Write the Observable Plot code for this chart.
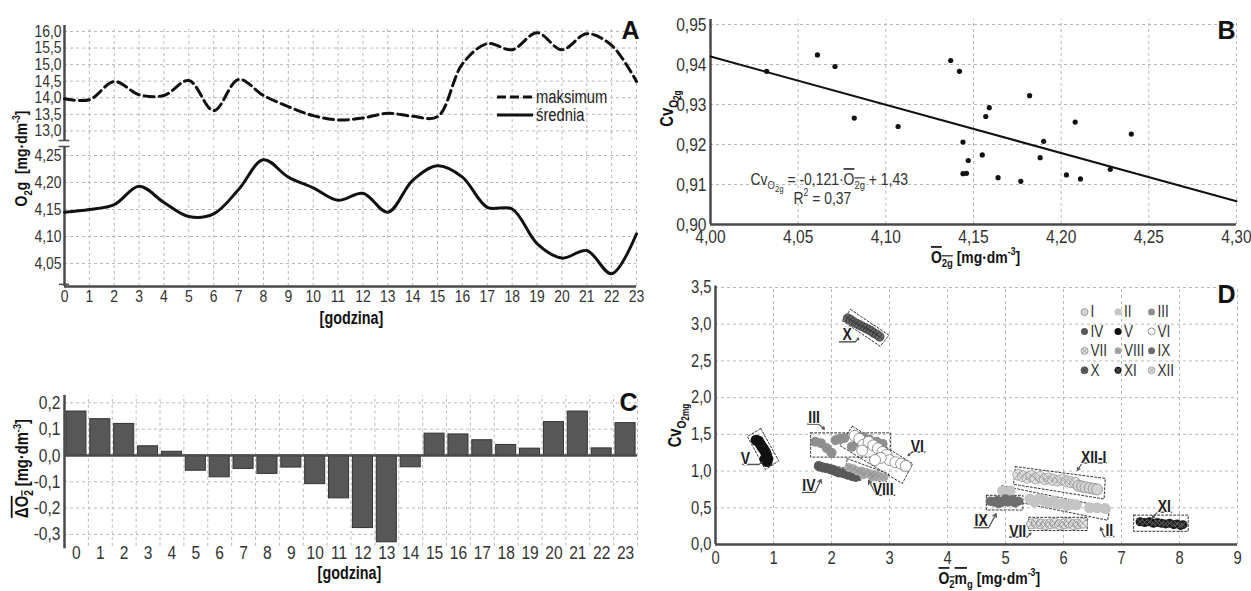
<!DOCTYPE html>
<html><head><meta charset="utf-8">
<script src="https://cdn.jsdelivr.net/npm/d3@7"></script>
<script src="https://cdn.jsdelivr.net/npm/@observablehq/plot@0.6"></script>
<style>
html,body{margin:0;padding:0;background:#fff;}
#chart{position:relative;width:1251px;height:591px;overflow:hidden;background:#fff;}
#chart > svg{position:absolute;left:0;top:0;}
#legA{position:absolute;left:497px;top:88px;font-family:"Liberation Sans",Arial,sans-serif;font-size:18px;color:#222;line-height:18px;}
#legA div{display:flex;align-items:center;height:18px;}
#legA span{display:inline-block;margin-left:3px;transform:scaleX(0.82);transform-origin:left center;}
</style></head><body><div id="chart"></div><script>
// ---------- data ----------
const hours = [0,1,2,3,4,5,6,7,8,9,10,11,12,13,14,15,16,17,18,19,20,21,22,23];
const hourLabels = ["0","1","2","3","4","5","6","7","8","9","10","11","12","13","14","15","16","17","18","19","20","21","22","23"];
const maxO2 = [13.97,13.94,14.49,14.09,14.07,14.52,13.61,14.55,14.07,13.73,13.46,13.33,13.39,13.53,13.44,13.43,15.02,15.63,15.45,15.96,15.45,15.93,15.58,14.49];
const meanO2 = [4.145,4.150,4.159,4.193,4.163,4.137,4.142,4.187,4.242,4.210,4.190,4.167,4.180,4.145,4.204,4.231,4.210,4.154,4.151,4.087,4.060,4.074,4.031,4.105];
const aTopTicks = [13.0,13.5,14.0,14.5,15.0,15.5,16.0];
const aTopLabels = ["13,0","13,5","14,0","14,5","15,0","15,5","16,0"];
const aLowTicks = [4.05,4.10,4.15,4.20,4.25];
const aLowLabels = ["4,05","4,10","4,15","4,20","4,25"];

const deltaO2 = [0.167,0.138,0.120,0.035,0.014,-0.058,-0.083,-0.051,-0.070,-0.046,-0.109,-0.163,-0.276,-0.330,-0.045,0.083,0.080,0.058,0.040,0.026,0.127,0.167,0.027,0.123];
const cYTicks = [0.2,0.1,0.0,-0.1,-0.2,-0.3];
const cYLabels = ["0,2","0,1","0,0","-0,1","-0,2","-0,3"];

const bX = [4.032,4.061,4.071,4.082,4.107,4.137,4.142,4.144,4.144,4.146,4.147,4.155,4.157,4.159,4.164,4.177,4.182,4.188,4.190,4.203,4.208,4.211,4.228,4.240];
const bY = [0.9383,0.9424,0.9395,0.9266,0.9245,0.9410,0.9383,0.9206,0.9127,0.9128,0.9160,0.9174,0.9270,0.9292,0.9117,0.9108,0.9322,0.9167,0.9208,0.9124,0.9256,0.9114,0.9138,0.9226];
const regX = [4.00,4.30];
const regY = [0.9420,0.9058];
const bXTicks = [4.00,4.05,4.10,4.15,4.20,4.25,4.30];
const bXLabels = ["4,00","4,05","4,10","4,15","4,20","4,25","4,30"];
const bYTicks = [0.90,0.91,0.92,0.93,0.94,0.95];
const bYLabels = ["0,90","0,91","0,92","0,93","0,94","0,95"];

const months = ["I","II","III","IV","V","VI","VII","VIII","IX","X","XI","XII"];
const mI = [[6.26,0.80],[6.32,0.79],[6.38,0.78],[6.45,0.77],[6.52,0.76],[6.58,0.75]];
const mII = [[4.95,0.73],[5.08,0.73],[5.42,0.62],[5.50,0.58],[5.58,0.62],[5.66,0.60],[5.74,0.57],[5.82,0.59],[5.90,0.55],[5.98,0.56],[6.06,0.53],[6.14,0.55],[6.22,0.54],[6.45,0.50],[6.58,0.50],[6.72,0.49]];
const mIII = [[1.72,1.40],[1.82,1.38],[1.92,1.31],[2.00,1.25],[2.07,1.42],[2.15,1.44],[2.22,1.45],[2.35,1.33],[2.45,1.40],[2.55,1.46],[2.65,1.43],[2.78,1.40],[2.88,1.37]];
const mIV = [[1.78,1.07],[1.85,1.05],[1.92,1.04],[2.00,1.02],[2.06,1.00],[2.12,0.98],[2.20,0.97],[2.28,0.95],[2.36,0.93],[2.42,0.92]];
const mV = [[0.70,1.42],[0.74,1.41],[0.77,1.37],[0.80,1.33],[0.83,1.30],[0.86,1.26],[0.88,1.22],[0.90,1.17],[0.89,1.13],[0.85,1.16]];
const mVI = [[2.40,1.48],[2.48,1.44],[2.55,1.36],[2.53,1.28],[2.64,1.40],[2.72,1.35],[2.80,1.31],[2.88,1.26],[2.95,1.22],[3.00,1.15],[3.10,1.12],[3.20,1.10],[3.28,1.07],[2.85,1.18],[2.75,1.15]];
const mVII = [[5.45,0.28],[5.53,0.29],[5.61,0.28],[5.69,0.27],[5.77,0.28],[5.85,0.29],[5.93,0.27],[6.01,0.28],[6.09,0.29],[6.17,0.27],[6.25,0.28],[6.33,0.29]];
const mVIII = [[2.30,1.05],[2.38,1.03],[2.45,1.00],[2.52,1.00],[2.60,0.98],[2.68,0.96],[2.75,0.95],[2.82,0.93],[2.90,0.92],[2.55,0.95],[2.70,0.92]];
const mIX = [[4.74,0.59],[4.80,0.58],[4.86,0.60],[4.92,0.57],[4.98,0.59],[5.04,0.58],[5.10,0.60],[5.16,0.57],[5.22,0.59],[4.88,0.56],[5.00,0.62],[5.12,0.61]];
const mX = [[2.28,3.08],[2.33,3.06],[2.38,3.03],[2.43,3.01],[2.48,2.99],[2.53,2.97],[2.58,2.95],[2.63,2.93],[2.68,2.91],[2.73,2.88],[2.78,2.86],[2.83,2.83]];
const mXI = [[7.32,0.31],[7.40,0.30],[7.48,0.31],[7.55,0.29],[7.62,0.30],[7.69,0.29],[7.76,0.28],[7.83,0.29],[7.90,0.27],[7.96,0.28],[8.02,0.26],[8.06,0.27]];
const mXII = [[5.22,0.95],[5.30,0.93],[5.38,0.91],[5.45,0.93],[5.52,0.90],[5.60,0.92],[5.68,0.89],[5.75,0.90],[5.82,0.88],[5.90,0.87],[5.98,0.88],[6.05,0.86],[6.12,0.85],[6.20,0.84]];
const dXTicks = [0,1,2,3,4,5,6,7,8,9];
const dXLabels = ["0","1","2","3","4","5","6","7","8","9"];
const dYTicks = [0,0.5,1,1.5,2,2.5,3,3.5];
const dYLabels = ["0,0","0,5","1,0","1,5","2,0","2,5","3,0","3,5"];

const boxNames = ["X","V","III","VI","IV","VIII","IX","VII","XII-I","II","XI"];
const boxCorners = [
  [[2.33,3.20],[2.99,2.85],[2.84,2.70],[2.18,3.05]],
  [[0.78,1.58],[1.09,1.14],[0.86,1.02],[0.55,1.47]],
  [[1.64,1.52],[3.02,1.52],[3.02,1.19],[1.64,1.19]],
  [[2.36,1.61],[3.40,1.10],[3.22,0.83],[2.14,1.35]],
  [[1.78,1.12],[2.53,0.985],[2.50,0.87],[1.75,1.01]],
  [[2.27,1.17],[2.99,0.96],[2.93,0.83],[2.25,1.03]],
  [[4.67,0.67],[5.30,0.67],[5.30,0.47],[4.67,0.47]],
  [[5.40,0.37],[6.41,0.37],[6.41,0.19],[5.40,0.19]],
  [[5.17,1.06],[6.72,0.90],[6.70,0.62],[5.14,0.82]],
  [[4.94,0.80],[6.80,0.50],[6.76,0.33],[4.90,0.63]],
  [[7.21,0.40],[8.15,0.40],[8.15,0.18],[7.21,0.18]]
];
const labelX = [2.27,0.517,1.70,3.48,1.61,2.89,4.58,5.21,6.52,6.79,7.74];
const labelY = [2.86,1.17,1.73,1.34,0.80,0.745,0.32,0.18,1.19,0.19,0.52];
const leaderPts = [
  [[2.13,2.76],[2.41,2.76],[2.47,2.81]],
  [[0.46,1.09],[0.75,1.09],[0.80,1.12]],
  [[1.58,1.64],[1.78,1.64],[1.88,1.57]],
  [[3.62,1.26],[3.39,1.26],[3.32,1.21]],
  [[1.49,0.71],[1.72,0.71],[1.82,0.885]],
  [[3.10,0.67],[2.78,0.67],[2.64,0.87]],
  [[4.45,0.23],[4.71,0.23],[4.84,0.42]],
  [[5.06,0.10],[5.37,0.10],[5.44,0.155]],
  [[6.75,1.11],[6.32,1.11],[6.24,1.01]],
  [[6.88,0.11],[6.70,0.11],[6.64,0.23]],
  [[7.87,0.44],[7.62,0.44],[7.53,0.36]]
];

// ---------- styles ----------
const W = 1251, H = 591;
const FONT = '"Liberation Sans",Arial,sans-serif';
const GRID = "#b8b8b8", AX = "#4a4a4a", TICK = "#333", LAB = "#111";
const NARROW = 0.82;
const chart = document.getElementById("chart");

const RICH = {
  "O2g [mg·dm-3]": {size:17, parts:[{t:"O"},{t:"2",sub:1},{t:"g  [mg·dm"},{t:"-3",sup:1},{t:"]"}]},
  "dO2 [mg·dm-3]": {size:18, parts:[{t:"ΔO",over:1},{t:"2",sub:1,over:1},{t:" [mg·dm"},{t:"-3",sup:1},{t:"]"}]},
  "O2g-bar [mg·dm-3]": {size:17, parts:[{t:"O",over:1},{t:"2g",sub:1,over:1},{t:" [mg·dm"},{t:"-3",sup:1},{t:"]"}]},
  "CvO2g": {size:18, parts:[{t:"Cv"},{t:"O",sub:1},{t:"2g",subsub:1}]},
  "CvO2mg": {size:18, parts:[{t:"Cv"},{t:"O",sub:1},{t:"2mg",subsub:1}]},
  "O2mg [mg·dm-3]": {size:17, parts:[{t:"O",over:1},{t:"2",sub:1,over:1},{t:"m",over:1},{t:"g",sub:1},{t:" [mg·dm"},{t:"-3",sup:1},{t:"]"}]},
  "CvO2g = -0,121·O2g + 1,43": {size:17, parts:[{t:"Cv"},{t:"O",sub:1},{t:"2g",subsub:1},{t:" = -0,121·"},{t:"O",over:1},{t:"2g",sub:1,over:1},{t:" + 1,43"}]},
  "R2 = 0,37": {size:17, parts:[{t:"R"},{t:"2",sup:1},{t:" = 0,37"}]}
};
function enrich(svg){
  const ns = "http://www.w3.org/2000/svg";
  svg.querySelectorAll("text").forEach(t => {
    const spec = RICH[t.textContent];
    if (!spec) return;
    while (t.firstChild) t.removeChild(t.firstChild);
    let cur = 0; const s = spec.size;
    for (const p of spec.parts) {
      const ts = document.createElementNS(ns, "tspan");
      let shift = 0, sc = 1;
      if (p.sub) { shift = 0.28*s; sc = 0.68; }
      if (p.subsub) { shift = 0.45*s; sc = 0.56; }
      if (p.sup) { shift = -0.42*s; sc = 0.62; }
      ts.setAttribute("dy", (shift - cur).toFixed(2)); cur = shift;
      ts.setAttribute("font-size", (s*sc).toFixed(2));
      if (p.over) ts.style.textDecoration = "overline";
      ts.textContent = p.t;
      t.appendChild(ts);
    }
  });
}
// condense text horizontally (Arial -> Arial Narrow look), keeping each text's anchor point
function narrow(svg){
  svg.querySelectorAll("text").forEach(t => {
    const fs = parseFloat(getComputedStyle(t).fontSize);
    if (fs >= 24) return;
    const tr = t.getAttribute("transform");
    if (tr) t.setAttribute("transform", tr + ` scale(${NARROW},1)`);
    else {
      const x = +(t.getAttribute("x") || 0), y = +(t.getAttribute("y") || 0);
      t.setAttribute("transform", `translate(${x},${y}) scale(${NARROW},1) translate(${-x},${-y})`);
    }
  });
}
function mk(m, xd, yd, marks){
  const svg = Plot.plot({
    width: W, height: H,
    marginLeft: m.l, marginRight: W - m.r, marginTop: m.t, marginBottom: H - m.b,
    x: {domain: xd, axis: null}, y: {domain: yd, axis: null},
    style: {background: "transparent", fontFamily: FONT, overflow: "visible"},
    marks
  });
  enrich(svg);
  chart.appendChild(svg);
  narrow(svg);
}
const gx = (vals, y1, y2) => Plot.ruleX(vals, {x: d => d, y1, y2, stroke: GRID, strokeWidth: 1, strokeDasharray: "3,3"});
const gy = (vals, x1, x2) => Plot.ruleY(vals, {y: d => d, x1, x2, stroke: GRID, strokeWidth: 1, strokeDasharray: "3,3"});
const ann = (m, str, px, py, o = {}) => Plot.text([str], {frameAnchor: "top-left", dx: px - m.l, dy: py - m.t, text: d => d, fontFamily: FONT, ...o});
const yTickText = (vals, labels, x, size, dx = -4) => Plot.text(vals, {x, y: d => d, text: (d, i) => labels[i], textAnchor: "end", dx, fontSize: size, fill: TICK});
const xTickText = (vals, labels, y, size, dy) => Plot.text(vals, {x: d => d, y, text: (d, i) => labels[i], lineAnchor: "top", dy, fontSize: size, fill: TICK});
const letter = (m, L, px, py) => ann(m, L, px, py, {fontWeight: "bold", fontSize: 25, textAnchor: "end", lineAnchor: "bottom", fill: "#111"});

// ---------- Panel A (upper: maksimum) ----------
{
  const m = {l: 64, r: 636, t: 25, b: 140};
  const yd = [12.71, 16.18];
  mk(m, [0, 23], yd, [
    gx(hours.slice(1), yd[0], 16.08),
    gy(aTopTicks, 0, 23),
    Plot.ruleX([0], {y1: yd[0], y2: yd[1], stroke: AX, strokeWidth: 2.5}),
    Plot.ruleY([yd[0]], {x1: -0.22, x2: 0.22, stroke: AX, strokeWidth: 1.5}),
    yTickText(aTopTicks, aTopLabels, 0, 17, -3),
    Plot.line(hours, {x: d => d, y: (d, i) => maxO2[i], curve: "catmull-rom", stroke: "#111", strokeWidth: 3, strokeDasharray: "10,5"}),
    letter(m, "A", 639, 38)
  ]);
}
// ---------- Panel A (lower: średnia) ----------
{
  const m = {l: 64, r: 636, t: 146, b: 286};
  const yd = [4.0074, 4.2667];
  mk(m, [0, 23], yd, [
    gx(hours.slice(1), yd[0], yd[1]),
    gy(aLowTicks, 0, 23),
    Plot.ruleY([yd[0]], {x1: 0, x2: 23, stroke: AX, strokeWidth: 2.5}),
    Plot.ruleX([0], {y1: yd[0], y2: yd[1], stroke: AX, strokeWidth: 2.5}),
    Plot.ruleY([yd[1]], {x1: -0.22, x2: 0.22, stroke: AX, strokeWidth: 1.5}),
    Plot.ruleY([yd[0] + 0.004], {x1: -0.2, x2: 0.2, stroke: AX, strokeWidth: 1.5}),
    yTickText(aLowTicks, aLowLabels, 0, 17, -3),
    xTickText(hours, hourLabels, yd[0], 17, 3),
    Plot.line(hours, {x: d => d, y: (d, i) => meanO2[i], curve: "catmull-rom", stroke: "#111", strokeWidth: 3}),
    ann(m, "[godzina]", 351, 323, {fontSize: 17.5, fontWeight: "bold", fill: LAB, textAnchor: "middle", lineAnchor: "bottom"}),
    ann(m, "O2g [mg·dm-3]", 21, 158, {fontSize: 17, fontWeight: "bold", fill: LAB, textAnchor: "middle", lineAnchor: "middle", rotate: -90})
  ]);
}
// ---------- Panel C ----------
{
  const m = {l: 64, r: 637, t: 395, b: 541};
  const yd = [-0.327, 0.228];
  const cData = hours.map((h, i) => ({h, v: deltaO2[i]}));
  mk(m, [-0.5, 23.5], yd, [
    gx(hours.map(h => h + 0.5), -0.345, yd[1]),
    gy(cYTicks.filter(v => v !== 0), -0.5, 23.5),
    Plot.rect(cData, {x1: d => d.h - 0.42, x2: d => d.h + 0.42, y1: 0, y2: "v", fill: "#575757", stroke: "#333", strokeWidth: 1}),
    Plot.ruleY([0], {x1: -0.5, x2: 23.5, stroke: AX, strokeWidth: 2.5}),
    Plot.ruleX([-0.5], {y1: -0.355, y2: yd[1], stroke: AX, strokeWidth: 2.5}),
    yTickText(cYTicks, cYLabels, -0.5, 19, -4),
    xTickText(hours, hourLabels, yd[0], 19, 4),
    ann(m, "[godzina]", 349, 578, {fontSize: 17.5, fontWeight: "bold", fill: LAB, textAnchor: "middle", lineAnchor: "bottom"}),
    ann(m, "dO2 [mg·dm-3]", 22, 468, {fontSize: 18, fontWeight: "bold", fill: LAB, textAnchor: "middle", lineAnchor: "middle", rotate: -90}),
    letter(m, "C", 637, 410)
  ]);
}
// ---------- Panel B ----------
{
  const m = {l: 710, r: 1236, t: 19, b: 224};
  const yd = [0.90, 0.95125];
  mk(m, [4.0, 4.3], yd, [
    gx(bXTicks.slice(1), yd[0], yd[1]),
    gy(bYTicks.slice(1), 4.0, 4.3),
    Plot.ruleX([4.0], {y1: yd[0], y2: yd[1], stroke: AX, strokeWidth: 2.5}),
    Plot.ruleY([0.90], {x1: 4.0, x2: 4.3, stroke: AX, strokeWidth: 2.5}),
    Plot.line(regX, {x: d => d, y: (d, i) => regY[i], stroke: "#111", strokeWidth: 2}),
    Plot.dot(bX, {x: d => d, y: (d, i) => bY[i], r: 2.6, fill: "#111"}),
    yTickText(bYTicks, bYLabels, 4.0, 19, -4),
    xTickText(bXTicks, bXLabels, 0.90, 19, 5),
    ann(m, "O2g-bar [mg·dm-3]", 975, 262, {fontSize: 17, fontWeight: "bold", fill: LAB, textAnchor: "middle", lineAnchor: "bottom"}),
    ann(m, "CvO2g", 667, 108, {fontSize: 18, fontWeight: "bold", fill: LAB, textAnchor: "middle", lineAnchor: "middle", rotate: -90}),
    ann(m, "CvO2g = -0,121·O2g + 1,43", 750, 184, {fontSize: 17, fill: TICK, textAnchor: "start", lineAnchor: "bottom"}),
    ann(m, "R2 = 0,37", 793, 203, {fontSize: 17, fill: TICK, textAnchor: "start", lineAnchor: "bottom"}),
    letter(m, "B", 1235, 38)
  ]);
}
// ---------- Panel D ----------
{
  const m = {l: 715, r: 1237, t: 287, b: 544};
  const yd = [0, 3.5];
  const monthPts = {I: mI, II: mII, III: mIII, IV: mIV, V: mV, VI: mVI, VII: mVII, VIII: mVIII, IX: mIX, X: mX, XI: mXI, XII: mXII};
  const st = {
    I:    {fill: "#d3d3d3", stroke: "#8a8a8a", r: 5.5},
    II:   {fill: "#c4c4c4", stroke: "none", r: 5.5},
    III:  {fill: "#8f8f8f", stroke: "none", r: 5},
    IV:   {fill: "#585858", stroke: "none", r: 5},
    V:    {fill: "#111111", stroke: "none", r: 5.5},
    VI:   {fill: "#ffffff", stroke: "#777", r: 5.5},
    VII:  {fill: "#e4e4e4", stroke: "#8a8a8a", r: 5, cross: "#8a8a8a"},
    VIII: {fill: "#ababab", stroke: "none", r: 4.5, cross: "#8a8a8a"},
    IX:   {fill: "#6e6e6e", stroke: "none", r: 4.8},
    X:    {fill: "#686868", stroke: "#444", r: 4.5, cross: "#333"},
    XI:   {fill: "#1a1a1a", stroke: "none", r: 4.5, cross: "#777"},
    XII:  {fill: "#e2e2e2", stroke: "#999", r: 5.5, cross: "#999"}
  };
  const drawOrder = ["II","IX","VII","XII","I","XI","V","X","III","VI","IV","VIII"];
  const boxRows = boxNames.flatMap((n, i) => [...boxCorners[i], boxCorners[i][0]].map(p => ({n, x: p[0], y: p[1]})));
  const leaders = leaderPts.map((p, i) => ({n: boxNames[i], p}));
  const pointMarks = drawOrder.flatMap(k => {
    const s = st[k], pts = monthPts[k];
    const out = [Plot.dot(pts, {x: d => d[0], y: d => d[1], r: s.r, fill: s.fill, stroke: s.stroke, strokeWidth: 0.8})];
    if (s.cross) out.push(Plot.dot(pts, {x: d => d[0], y: d => d[1], r: s.r * 0.62, symbol: "times", stroke: s.cross, strokeWidth: 0.8, fill: "none"}));
    return out;
  });
  const leg = months.map((k, i) => ({k, x: 6.362 + (i % 3) * 0.578, y: 3.165 - Math.floor(i / 3) * 0.264}));
  const legMarks = months.flatMap((k, i) => {
    const s = st[k], d = [leg[i]];
    const out = [Plot.dot(d, {x: "x", y: "y", r: 3.5, fill: s.fill, stroke: s.stroke, strokeWidth: 0.8})];
    if (s.cross) out.push(Plot.dot(d, {x: "x", y: "y", r: 2.2, symbol: "times", stroke: s.cross, strokeWidth: 0.8, fill: "none"}));
    return out;
  });
  mk(m, [0, 9], yd, [
    gx(dXTicks.slice(1), 0, 3.5),
    gy(dYTicks.slice(1), 0, 9),
    Plot.ruleX([0], {y1: 0, y2: 3.52, stroke: AX, strokeWidth: 2.5}),
    Plot.ruleY([0], {x1: 0, x2: 9, stroke: AX, strokeWidth: 2.5}),
    Plot.line(boxRows, {x: "x", y: "y", z: "n", stroke: "#333", strokeWidth: 1, strokeDasharray: "2,2"}),
    ...pointMarks,
    Plot.link(leaders, {x1: d => d.p[0][0], x2: d => d.p[1][0], y1: d => d.p[0][1], y2: d => d.p[1][1], stroke: "#555", strokeWidth: 1.5}),
    Plot.arrow(leaders, {x1: d => d.p[1][0], x2: d => d.p[2][0], y1: d => d.p[1][1], y2: d => d.p[2][1], stroke: "#555", strokeWidth: 1.2, headLength: 5}),
    Plot.text(boxNames, {x: (d, i) => labelX[i], y: (d, i) => labelY[i], text: d => d, fontSize: 17, fontWeight: "bold", fill: "#222", stroke: "#fff", strokeWidth: 2, paintOrder: "stroke"}),
    ...legMarks,
    Plot.text(leg, {x: "x", y: "y", text: "k", dx: 6, textAnchor: "start", fontSize: 16.5, fill: TICK}),
    yTickText(dYTicks, dYLabels, 0, 18, -4),
    xTickText(dXTicks, dXLabels, 0, 18, 7),
    ann(m, "O2mg [mg·dm-3]", 938, 583, {fontSize: 17, fontWeight: "bold", fill: LAB, textAnchor: "start", lineAnchor: "bottom"}),
    ann(m, "CvO2mg", 675, 425, {fontSize: 18, fontWeight: "bold", fill: LAB, textAnchor: "middle", lineAnchor: "middle", rotate: -90}),
    letter(m, "D", 1235, 302)
  ]);
}
// ---------- legend of panel A ----------
const legA = document.createElement("div");
legA.id = "legA";
legA.innerHTML = '<div><svg width="36" height="6"><line x1="0" x2="36" y1="3" y2="3" stroke="#111" stroke-width="3" stroke-dasharray="9,4"/></svg><span>maksimum</span></div>' +
                 '<div><svg width="36" height="6"><line x1="0" x2="36" y1="3" y2="3" stroke="#111" stroke-width="3"/></svg><span>średnia</span></div>';
chart.appendChild(legA);
</script></body></html>
